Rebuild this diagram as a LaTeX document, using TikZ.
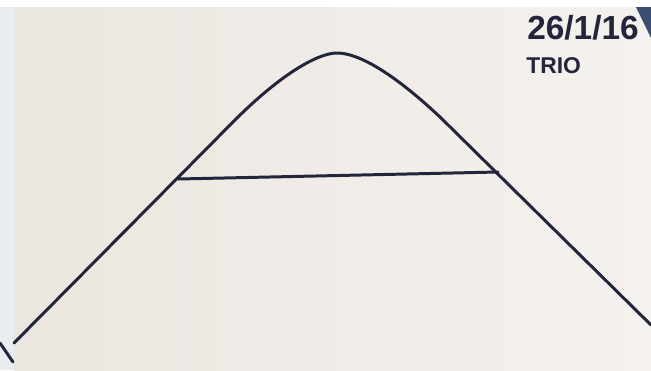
\documentclass[tikz,border=0pt]{standalone}
\usepackage{fontspec}
\setmainfont{Liberation Sans}
\usepackage{xcolor}
\usetikzlibrary{positioning, calc}
\definecolor{ink}{HTML}{23263A}
\definecolor{paper}{HTML}{E9DFDC}
\definecolor{paperl}{HTML}{ECE6E0}
\definecolor{paperr}{HTML}{F5F1EE}
\definecolor{sheet}{HTML}{E9EDF1}
\definecolor{penblue}{HTML}{3A4E72}

\begin{document}
\begin{tikzpicture}[x=0.02cm, y=-0.02cm, line cap=round, line join=round,
    pen/.style={draw=ink, line width=1.7pt},
    note/.style={text=ink, inner sep=0pt}]
    \useasboundingbox (0,0) rectangle (651,370);
    % background: the sheet behind and the paper
    \fill[white] (0,0) rectangle (651,370);
    \fill[sheet] (0,7) rectangle (14,370);
    \shade[left color=paperl, middle color=paper, right color=paperr] (14,7) rectangle (651,370);
    \fill[penblue] (636,7) -- (651,7) -- (651,38) -- cycle;

    % points of the curve
    \coordinate (lowleft) at (14,343);
    \coordinate (bendleft) at (230,125);
    \coordinate (peak) at (337,53);
    \coordinate (bendright) at (440,117);
    \coordinate (lowright) at (651,325);
    \coordinate (cutleft) at (178,179);
    \coordinate (cutright) at (498,172);

    % the bell
    \draw[pen] (lowleft) -- (bendleft)
        .. controls (280,74) and (318,53) .. (peak)
        .. controls (358,53) and (392,72) .. (bendright) -- (lowright);
    \draw[pen] (cutleft) -- (cutright);

    % the sheet underneath
    \coordinate (sheettop) at (0,343);
    \coordinate (sheetend) at (13,362);
    \draw[pen] (sheettop) -- (sheetend);

    % date and note
    \node[note, font=\bfseries\fontsize{19}{19}\selectfont] (date) at (583,28) {26/1/16};
    \node[note, font=\bfseries\fontsize{13}{13}\selectfont, anchor=west] (trio) at (526,66) {TRIO};
\end{tikzpicture}
\end{document}
